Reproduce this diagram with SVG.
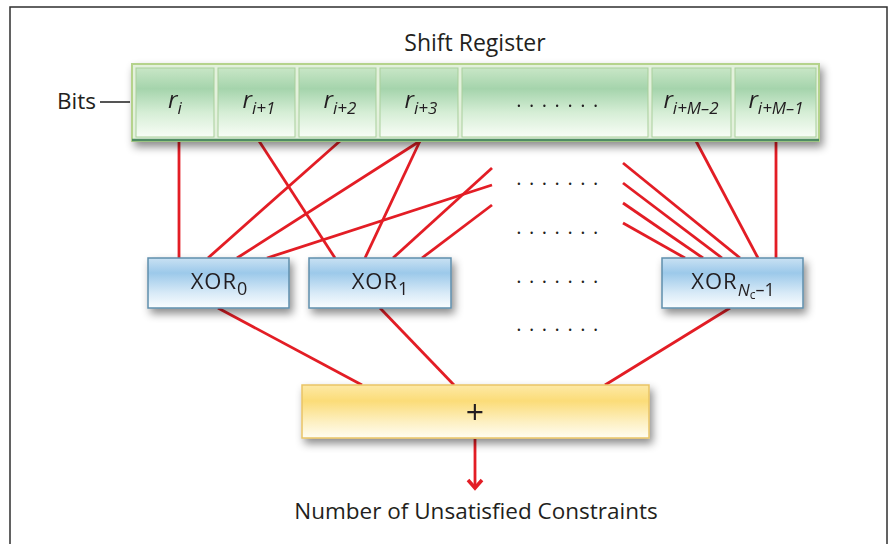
<svg xmlns="http://www.w3.org/2000/svg" width="893" height="544" viewBox="0 0 893 544">
<defs>
<style>
.t{font-family:"Open Sans","Liberation Sans",sans-serif;fill:#231f20}
.it{font-family:"Open Sans","Liberation Sans",sans-serif;font-style:italic;fill:#231f20}
.red{stroke:#e31d25;stroke-width:2.8;fill:none}
.cell{fill:url(#gCell);stroke:#a9cf9b;stroke-width:1}
.xor{fill:url(#gBlue);stroke:#5f8fac;stroke-width:1.5}
.dots{letter-spacing:7.5px}
</style>
<linearGradient id="gCell" x1="0" y1="0" x2="0" y2="1">
<stop offset="0" stop-color="#c8e6c6"/>
<stop offset="0.3" stop-color="#a5d4ac"/>
<stop offset="0.65" stop-color="#d6eed6"/>
<stop offset="1" stop-color="#f8fdf6"/>
</linearGradient>
<linearGradient id="gBlue" x1="0" y1="0" x2="0" y2="1">
<stop offset="0" stop-color="#c9e1f3"/>
<stop offset="0.3" stop-color="#9cc9ea"/>
<stop offset="0.7" stop-color="#d8eaf7"/>
<stop offset="1" stop-color="#fafdff"/>
</linearGradient>
<linearGradient id="gYel" x1="0" y1="0" x2="0" y2="1">
<stop offset="0" stop-color="#fde9a6"/>
<stop offset="0.3" stop-color="#fbdc78"/>
<stop offset="0.7" stop-color="#fdf0c2"/>
<stop offset="1" stop-color="#fffdf2"/>
</linearGradient>
<filter id="sh" x="-10%" y="-30%" width="125%" height="180%">
<feDropShadow dx="3" dy="5" stdDeviation="4" flood-color="#000" flood-opacity="0.45"/>
</filter>
<marker id="arr" markerWidth="20" markerHeight="20" refX="12" refY="9" orient="auto" markerUnits="userSpaceOnUse">
<path d="M4,2 L12,9 L4,16" fill="none" stroke="#e31d25" stroke-width="3.5"/>
</marker>
</defs>
<rect width="893" height="544" fill="#fff"/>
<rect x="10" y="7" width="877" height="560" fill="none" stroke="#2f2f2f" stroke-width="1.5"/>

<g id="connectors">
<line class="red" x1="179" y1="141" x2="179" y2="258"/>
<line class="red" x1="259" y1="141" x2="335" y2="258"/>
<line class="red" x1="340" y1="141" x2="208" y2="258"/>
<line class="red" x1="420" y1="141" x2="237" y2="258"/>
<line class="red" x1="420" y1="141" x2="365" y2="258"/>
<line class="red" x1="492" y1="168" x2="393" y2="258"/>
<line class="red" x1="492" y1="185" x2="267" y2="258"/>
<line class="red" x1="492" y1="205" x2="422" y2="258"/>
<line class="red" x1="623" y1="163" x2="740" y2="258"/>
<line class="red" x1="623" y1="183" x2="722" y2="258"/>
<line class="red" x1="623" y1="203" x2="703" y2="258"/>
<line class="red" x1="623" y1="223" x2="685" y2="258"/>
<line class="red" x1="696" y1="141" x2="758" y2="258"/>
<line class="red" x1="776" y1="141" x2="776" y2="258"/>
<line class="red" x1="218" y1="308" x2="362" y2="385"/>
<line class="red" x1="380" y1="308" x2="454" y2="385"/>
<line class="red" x1="730" y1="308" x2="605" y2="385"/>
<line class="red" x1="475" y1="439" x2="475" y2="488" stroke-width="4" marker-end="url(#arr)"/>
<line x1="100" y1="102" x2="130" y2="102" stroke="#555" stroke-width="2"/>
</g>

<text class="t" x="475" y="51" font-size="23" text-anchor="middle">Shift Register</text>
<text class="t" x="57" y="109" font-size="22.5">Bits</text>

<g id="register" filter="url(#sh)">
<rect x="132" y="64" width="687" height="77" fill="#e3f1dc" stroke="#b5d38c" stroke-width="2"/>
<line x1="132" y1="140" x2="819" y2="140" stroke="#4f8c64" stroke-width="2.5"/>
<g id="cell0"><rect class="cell" x="136" y="68" width="78" height="69"/><text class="it" x="175" y="108" font-size="24" text-anchor="middle">r<tspan font-size="17" dy="6">i</tspan></text></g>
<g id="cell1"><rect class="cell" x="218" y="68" width="77" height="69"/><text class="it" x="259" y="108" font-size="24" text-anchor="middle">r<tspan font-size="17" dy="6">i+1</tspan></text></g>
<g id="cell2"><rect class="cell" x="299" y="68" width="77" height="69"/><text class="it" x="340" y="108" font-size="24" text-anchor="middle">r<tspan font-size="17" dy="6">i+2</tspan></text></g>
<g id="cell3"><rect class="cell" x="380" y="68" width="78" height="69"/><text class="it" x="421" y="108" font-size="24" text-anchor="middle">r<tspan font-size="17" dy="6">i+3</tspan></text></g>
<g id="cellDots"><rect class="cell" x="462" y="68" width="186" height="69"/><text class="t dots" x="561" y="107" font-size="20" text-anchor="middle">.......</text></g>
<g id="cellM2"><rect class="cell" x="652" y="68" width="79" height="69"/><text class="it" x="691" y="108" font-size="24" text-anchor="middle">r<tspan font-size="17" dy="6">i+M–2</tspan></text></g>
<g id="cellM1"><rect class="cell" x="735" y="68" width="81" height="69"/><text class="it" x="776" y="108" font-size="24" text-anchor="middle">r<tspan font-size="17" dy="6">i+M–1</tspan></text></g>
</g>

<g id="dots" class="t dots" font-size="20">
<text x="561" y="185" text-anchor="middle">.......</text>
<text x="561" y="234" text-anchor="middle">.......</text>
<text x="561" y="283" text-anchor="middle">.......</text>
<text x="561" y="331" text-anchor="middle">.......</text>
</g>

<g id="xor0" filter="url(#sh)"><rect class="xor" x="148" y="258" width="141" height="50"/><text class="t" x="219" y="289" font-size="22" letter-spacing="1" text-anchor="middle">XOR<tspan font-size="18" dy="6" letter-spacing="0">0</tspan></text></g>
<g id="xor1" filter="url(#sh)"><rect class="xor" x="309" y="258" width="142" height="50"/><text class="t" x="380" y="289" font-size="22" letter-spacing="1" text-anchor="middle">XOR<tspan font-size="18" dy="6" letter-spacing="0">1</tspan></text></g>
<g id="xorN" filter="url(#sh)"><rect class="xor" x="662" y="258" width="141" height="50"/><text class="t" x="733" y="289" font-size="22" letter-spacing="1" text-anchor="middle">XOR<tspan class="it" font-size="17" dy="7" letter-spacing="0">N</tspan><tspan font-size="12" dy="3" letter-spacing="0">c</tspan><tspan font-size="18" dy="-3" letter-spacing="0">–1</tspan></text></g>

<g id="sum" filter="url(#sh)"><rect x="302" y="385" width="347" height="53" fill="url(#gYel)" stroke="#e9c466" stroke-width="1.5"/><text class="t" x="475" y="424" font-size="32" text-anchor="middle">+</text></g>

<text class="t" x="476" y="519" font-size="22.5" text-anchor="middle">Number of Unsatisfied Constraints</text>
</svg>
